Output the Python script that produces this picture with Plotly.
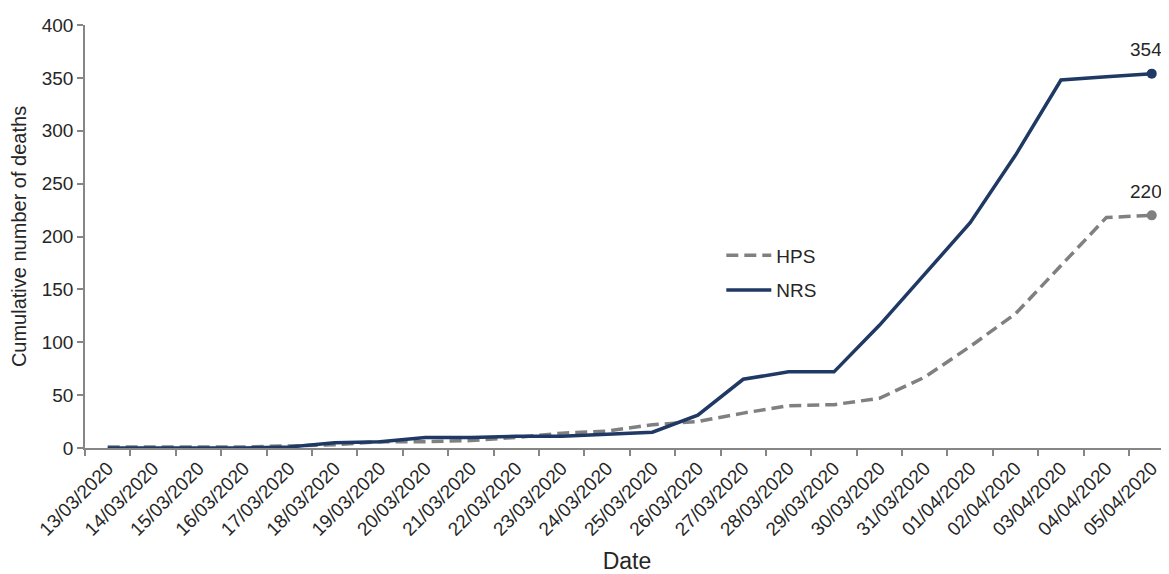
import plotly.graph_objects as go

dates = ["13/03/2020", "14/03/2020", "15/03/2020", "16/03/2020", "17/03/2020",
         "18/03/2020", "19/03/2020", "20/03/2020", "21/03/2020", "22/03/2020",
         "23/03/2020", "24/03/2020", "25/03/2020", "26/03/2020", "27/03/2020",
         "28/03/2020", "29/03/2020", "30/03/2020", "31/03/2020", "01/04/2020",
         "02/04/2020", "03/04/2020", "04/04/2020", "05/04/2020"]

hps = [1, 1, 1, 1, 2, 3, 6, 6, 7, 10, 14, 16, 22, 25, 33, 40, 41, 47, 67, 96,
       127, 172, 218, 220]
nrs = [0, 0, 0, 0, 1, 5, 6, 10, 10, 11, 11, 13, 15, 31, 65, 72, 72, 116, 164,
       213, 277, 348, 351, 354]

navy = "#1F3864"
grey = "#808080"
txt = "#262626"

fig = go.Figure()
fig.add_trace(go.Scatter(x=dates, y=hps, name="HPS", mode="lines", legendgroup="a",
                         line=dict(color=grey, width=3.5, dash="12px,6px")))
fig.add_trace(go.Scatter(x=dates, y=nrs, name="NRS", mode="lines", legendgroup="b",
                         line=dict(color=navy, width=3.5)))

# end-point markers with value labels
for vals, col in [(hps, grey), (nrs, navy)]:
    fig.add_trace(go.Scatter(x=[dates[-1]], y=[vals[-1]], mode="markers",
                             marker=dict(color=col, size=10),
                             showlegend=False, cliponaxis=False))
    fig.add_annotation(x=dates[-1], y=vals[-1], text=str(vals[-1]),
                       showarrow=False, yshift=24, xshift=-6,
                       font=dict(size=19, color=txt))

fig.update_layout(
    width=1161, height=566,
    margin=dict(l=77, r=0, t=17, b=126),
    plot_bgcolor="white", paper_bgcolor="white",
    font=dict(family="Liberation Sans, Arial", size=19, color=txt),
    legend=dict(x=0.587, y=0.5, xanchor="left", yanchor="top",
                bgcolor="rgba(0,0,0,0)", font=dict(size=19),
                itemwidth=45, tracegroupgap=7),
)
fig.update_xaxes(
    type="category", range=[-0.5, 23.38], tickson="boundaries",
    ticks="outside", ticklen=6, tickcolor="#868686", tickwidth=1.5,
    tickangle=-45, showline=True, linecolor="#868686", linewidth=1.5,
    showgrid=False, automargin=False, title=dict(text="Date", standoff=20),
)
fig.update_yaxes(
    range=[0, 400], dtick=50, ticks="outside", ticklen=6,
    tickcolor="#868686", tickwidth=1.5, showline=True,
    linecolor="#868686", linewidth=1.5, showgrid=False, zeroline=False,
    title=dict(text="Cumulative number of deaths", standoff=10,
               font=dict(size=20)),
)

fig.write_html("out.html")
